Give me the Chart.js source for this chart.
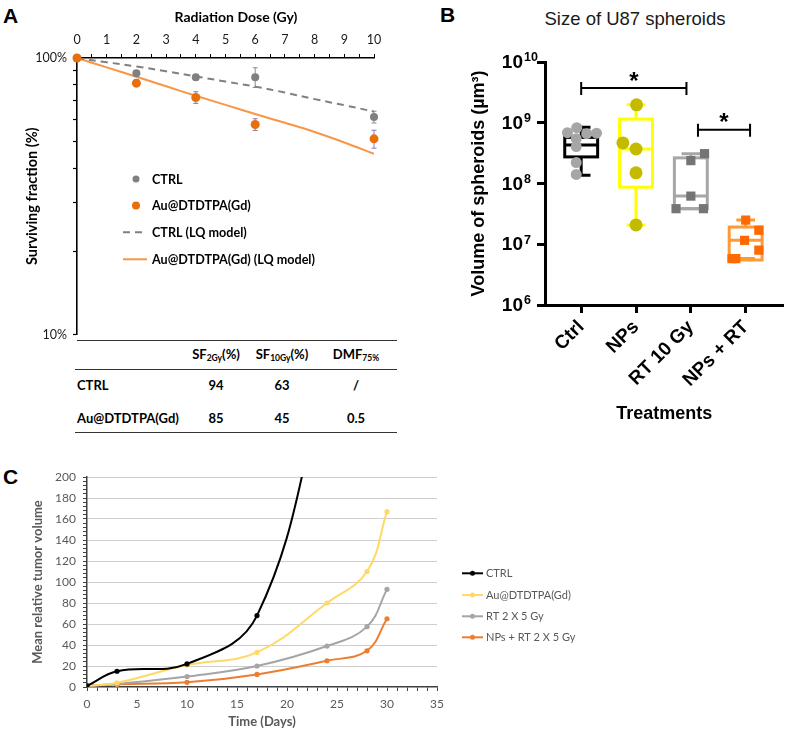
<!DOCTYPE html>
<html><head><meta charset="utf-8">
<script src="https://cdn.jsdelivr.net/npm/chart.js@4.4.1/dist/chart.umd.min.js"></script>
<style>
html,body{margin:0;padding:0;background:#fff;}
body{width:790px;height:734px;position:relative;overflow:hidden;}
canvas{position:absolute;}
.t{position:absolute;white-space:nowrap;font-family:Lato,"Liberation Sans",sans-serif;color:#000;line-height:1;}
.c{transform:translate(-50%,-50%);}
.l{transform:translate(0,-50%);}
.letter{position:absolute;font:bold 21px "Liberation Sans",Arial,sans-serif;line-height:1;color:#000;}
.hl{position:absolute;height:0;border-top:1.6px solid #333;}
sub{font-size:8.5px;vertical-align:-2px;}
</style></head><body>
<div class="letter" style="left:3px;top:5px">A</div>
<div class="letter" style="left:440px;top:4px">B</div>
<div class="letter" style="left:3px;top:466px">C</div>
<div class="t c" id="titleB" style="left:635px;top:19px;font-family:'Liberation Sans',Arial,sans-serif;font-size:18.5px;color:#1a1a1a">Size of U87 spheroids</div>
<div id="tableA"></div>
<canvas id="cA" width="400" height="348" style="left:0;top:0"></canvas>
<canvas id="cB" width="390" height="430" style="left:400px;top:0"></canvas>
<canvas id="cC" width="790" height="274" style="left:0;top:460px"></canvas>
<script>
// ================= Panel A data =================
const doses = [0, 2, 4, 6, 10];
const sfCtrl = [1.00, 0.88, 0.852, 0.852, 0.612];
const errCtrl = [0, 0.02, 0.02, 0.07, 0.03];
const sfNPs = [1.00, 0.811, 0.72, 0.575, 0.51];
const errNPs = [0, 0.023, 0.035, 0.028, 0.038];
const lqDose = [0, 1, 2, 3, 4, 5, 6, 7, 8, 9, 10];
const lqCtrl = [1.00, 0.965, 0.932, 0.895, 0.858, 0.822, 0.788, 0.75, 0.71, 0.675, 0.64];
const lqNPs = [1.00, 0.925, 0.855, 0.79, 0.73, 0.677, 0.627, 0.583, 0.54, 0.495, 0.45];
const sfTicks = [0.1, 0.2, 0.3, 0.4, 0.5, 0.6, 0.7, 0.8, 0.9, 1.0];
const tableHead = ['SF<sub>2Gy</sub>(%)', 'SF<sub>10Gy</sub>(%)', 'DMF<sub>75%</sub>'];
const tableRows = ['CTRL', 'Au@DTDTPA(Gd)'];
const sf2 = ['94', '85'];
const sf10 = ['63', '45'];
const dmf = ['/', '0.5'];

// ================= Panel B data =================
const groups = ['Ctrl', 'NPs', 'RT 10 Gy', 'NPs + RT'];
const volCtrl = [6.85e8, 8.28e8, 6.6e8, 6.73e8, 5.47e8, 4.05e8, 2.21e8, 1.41e8];
const jitCtrl = [-0.25, -0.08, 0.1, 0.28, -0.09, -0.09, -0.09, -0.09];
const volNPs = [1.97e9, 4.65e8, 3.7e8, 1.5e8, 2.08e7];
const jitNPs = [0.01, -0.24, 0, 0, 0];
const volRT = [3.1e8, 2.38e8, 6.2e7, 3.85e7, 3.85e7];
const jitRT = [0.25, 0, 0, -0.27, 0.23];
const volNPsRT = [2.5e7, 1.7e7, 1.16e7, 8.0e6, 5.8e6, 5.8e6];
const jitNPsRT = [0, 0.24, -0.02, 0.24, -0.25, -0.18];
const boxMin = [1.37e8, 2.08e7, 3.85e7, 5.8e6];
const boxQ1  = [2.74e8, 8.7e7, 3.85e7, 5.5e6];
const boxMed = [4.3e8, 3.7e8, 6.2e7, 1.16e7];
const boxQ3  = [5.74e8, 1.15e9, 2.64e8, 1.92e7];
const boxMax = [8.4e8, 1.97e9, 3.1e8, 2.5e7];
const volTicks = [1e6, 1e7, 1e8, 1e9, 1e10];
const sigFrom = [0, 2.13];
const sigTo = [1.92, 3.08];
const sigLevel = [3.75e9, 7.7e8];
const sigText = ['*', '*'];

// ================= Panel C data =================
const days = [0, 3, 10, 17, 24, 28, 30];
const tvCtrl = [1, 15, 22, 68, 300];
const tvNPs = [1, 4, 21, 33, 80, 110, 167];
const tvRT = [1, 3, 10, 20, 39, 57.5, 93];
const tvNPsRT = [1, 2.5, 4.5, 12, 25, 34.5, 65];
const seriesC = ['CTRL', 'Au@DTDTPA(Gd)', 'RT 2 X 5 Gy', 'NPs + RT 2 X 5 Gy'];
const dayTicks = [0,1,2,3,4,5,6,7,8,9,10,11,12,13,14,15,16,17,18,19,20,21,22,23,24,25,26,27,28,29,30,31,32,33,34,35];

// ================= Table (panel A) =================
(function(){
  const host = document.getElementById('tableA');
  const colX = [216, 282, 356];
  let h = '';
  h += '<div class="hl" style="left:77px;top:340px;width:320px"></div>';
  h += '<div class="hl" style="left:75px;top:369px;width:322px"></div>';
  h += '<div class="hl" style="left:75px;top:432px;width:322px"></div>';
  tableHead.forEach((t,i)=>{ h += `<div class="t c" style="left:${colX[i]}px;top:355px;font-weight:700;font-size:13px">${t}</div>`; });
  const rowY = [385, 418];
  tableRows.forEach((r,j)=>{
    h += `<div class="t l" style="left:77px;top:${rowY[j]}px;font-weight:700;font-size:13px">${r}</div>`;
    [sf2[j], sf10[j], dmf[j]].forEach((v,i)=>{ h += `<div class="t c" style="left:${colX[i]}px;top:${rowY[j]}px;font-weight:700;font-size:13px">${v}</div>`; });
  });
  host.innerHTML = h;
})();

Chart.defaults.animation = false;
Chart.defaults.plugins.legend.display = false;
Chart.defaults.plugins.tooltip.enabled = false;

// ================= Chart A =================
const errorBars = {
  id: 'errorBars',
  beforeDatasetsDraw(chart) {
    const {ctx, scales:{x, y}} = chart;
    ctx.save();
    chart.data.datasets.forEach(ds => {
      if (!ds.err) return;
      ctx.strokeStyle = ds.errColor; ctx.lineWidth = 1;
      ds.data.forEach((p, j) => {
        const e = ds.err[j]; if (!e) return;
        const px = x.getPixelForValue(p.x);
        const t = y.getPixelForValue(p.y + e), b = y.getPixelForValue(p.y - e);
        ctx.beginPath();
        ctx.moveTo(px, t); ctx.lineTo(px, b);
        ctx.moveTo(px - 2.5, t); ctx.lineTo(px + 2.5, t);
        ctx.moveTo(px - 2.5, b); ctx.lineTo(px + 2.5, b);
        ctx.stroke();
      });
    });
    ctx.restore();
  }
};
const legendA = {
  id: 'legendA',
  afterDraw(chart) {
    const ctx = chart.ctx;
    const order = [1, 0, 2, 3];
    const ys = [179, 205.5, 232.3, 259.3];
    ctx.save();
    ctx.font = 'bold 12.6px Lato';
    ctx.textBaseline = 'middle';
    ctx.fillStyle = '#000';
    order.forEach((di, k) => {
      const ds = chart.data.datasets[di];
      const yy = ys[k];
      if (ds.legendKind === 'dot') {
        ctx.beginPath(); ctx.fillStyle = ds.pointBackgroundColor;
        ctx.arc(136, yy, ds.pointRadius - 0.5, 0, Math.PI * 2); ctx.fill();
      } else {
        ctx.beginPath(); ctx.strokeStyle = ds.borderColor; ctx.lineWidth = ds.borderWidth;
        ctx.setLineDash(ds.borderDash || []);
        ctx.moveTo(123, yy); ctx.lineTo(147, yy); ctx.stroke(); ctx.setLineDash([]);
      }
      ctx.fillStyle = '#000';
      ctx.fillText(ds.label, 152, yy + 0.5);
    });
    // top axis title
    ctx.font = 'bold 14px Lato';
    ctx.textAlign = 'center';
    ctx.fillText(chart.options.plugins.axisTitleTop, 236, 17);
    ctx.restore();
  }
};
new Chart(document.getElementById('cA'), {
  type: 'scatter',
  data: { datasets: [
    { label: 'Au@DTDTPA(Gd)', data: doses.map((d,i)=>({x:d, y:sfNPs[i]})), err: errNPs, errColor: '#8a78c0',
      pointRadius: 4.5, pointBackgroundColor: '#e8700c', pointBorderColor: '#e8700c', pointBorderWidth: 0, clip: false, legendKind: 'dot' },
    { label: 'CTRL', data: doses.map((d,i)=>({x:d, y:sfCtrl[i]})), err: errCtrl, errColor: '#8c8c8c',
      pointRadius: 4, pointBackgroundColor: '#808080', pointBorderColor: '#808080', pointBorderWidth: 0, clip: false, legendKind: 'dot' },
    { label: 'CTRL (LQ model)', data: lqDose.map((d,i)=>({x:d, y:lqCtrl[i]})), showLine: true, borderColor: '#808080',
      borderWidth: 2, borderDash: [7, 5], pointRadius: 0, tension: 0.4, legendKind: 'line' },
    { label: 'Au@DTDTPA(Gd) (LQ model)', data: lqDose.map((d,i)=>({x:d, y:lqNPs[i]})), showLine: true, borderColor: '#f79646',
      borderWidth: 2, pointRadius: 0, tension: 0.4, legendKind: 'line' }
  ]},
  options: {
    responsive: false,
    layout: { padding: { left: 21, top: 4, right: 26, bottom: 0 } },
    plugins: { axisTitleTop: 'Radiation Dose (Gy)' },
    scales: {
      x: { type: 'linear', position: 'top', min: 0, max: 10,
        ticks: { stepSize: 0.5, autoSkip: false, maxRotation: 0, padding: 7, color: '#1a1a1a',
          font: { family: 'Lato', size: 12.5 }, callback: v => Number.isInteger(v) ? String(v) : '' },
        grid: { drawOnChartArea: false, tickLength: 4, tickColor: '#000', tickWidth: 1 },
        border: { color: '#000', width: 1.4 },
        title: { display: false },
        afterFit(s) { s.height = 54; } },
      y: { type: 'logarithmic', min: 0.1, max: 1,
        afterBuildTicks(s) { s.ticks = sfTicks.map(v => ({ value: v })); },
        ticks: { autoSkip: false, padding: 6, color: '#1a1a1a', font: { family: 'Lato', size: 12.5 },
          callback: v => Math.abs(v - 1) < 1e-9 ? '100%' : (Math.abs(v - 0.1) < 1e-9 ? '10%' : '') },
        grid: { drawOnChartArea: false, tickLength: 4, tickColor: '#000', tickWidth: 1.2 },
        border: { color: '#000', width: 1.6 },
        title: { display: true, text: 'Surviving fraction (%)', color: '#000', font: { family: 'Lato', size: 14.5, weight: 'bold' }, padding: { top: 3, bottom: 0 } },
        afterFit(s) { s.width = 56; } }
    }
  },
  plugins: [errorBars, legendA]
});

// ================= Chart B =================
const boxColors = ['#000000', '#ffff00', '#a6a6a6', '#ff9933'];
const boxHalf = 0.3;
const capHalf = 0.17;
const boxPlugin = {
  id: 'boxes',
  beforeDatasetsDraw(chart) {
    const {ctx, scales:{x, y}} = chart;
    ctx.save(); ctx.lineWidth = 3; ctx.lineJoin = 'miter';
    groups.forEach((g, i) => {
      const cx = x.getPixelForValue(i);
      const hw = x.getPixelForValue(i + boxHalf) - cx;
      const cw = x.getPixelForValue(i + capHalf) - cx;
      const yMin = y.getPixelForValue(boxMin[i]), yQ1 = y.getPixelForValue(boxQ1[i]);
      const yMed = y.getPixelForValue(boxMed[i]), yQ3 = y.getPixelForValue(boxQ3[i]);
      const yMax = y.getPixelForValue(boxMax[i]);
      ctx.strokeStyle = boxColors[i];
      ctx.beginPath();
      ctx.moveTo(cx, yQ3); ctx.lineTo(cx, yMax);
      ctx.moveTo(cx - cw, yMax); ctx.lineTo(cx + cw, yMax);
      ctx.moveTo(cx, yQ1); ctx.lineTo(cx, yMin);
      ctx.moveTo(cx - cw, yMin); ctx.lineTo(cx + cw, yMin);
      ctx.moveTo(cx - hw, yMed); ctx.lineTo(cx + hw, yMed);
      ctx.stroke();
      ctx.strokeRect(cx - hw, yQ3, 2 * hw, yQ1 - yQ3);
    });
    ctx.restore();
  },
  afterDraw(chart) {
    const {ctx, scales:{x, y}, chartArea} = chart;
    ctx.save();
    ctx.strokeStyle = '#000'; ctx.lineWidth = 2; ctx.fillStyle = '#000';
    sigFrom.forEach((f, k) => {
      const x1 = x.getPixelForValue(f), x2 = x.getPixelForValue(sigTo[k]);
      const yy = y.getPixelForValue(sigLevel[k]);
      ctx.beginPath();
      ctx.moveTo(x1, yy + 7); ctx.lineTo(x1, yy - 6);
      ctx.moveTo(x1, yy); ctx.lineTo(x2, yy);
      ctx.moveTo(x2, yy + 7); ctx.lineTo(x2, yy - 6);
      ctx.stroke();
      ctx.font = 'bold 24px "Liberation Sans"'; ctx.textAlign = 'center'; ctx.textBaseline = 'middle';
      ctx.fillText(sigText[k], (x1 + x2) / 2, yy - 6);
    });
    volTicks.forEach(v => {
      const yy = y.getPixelForValue(v);
      const ex = Math.round(Math.log10(v));
      const xr = chartArea.left - 22;
      ctx.textBaseline = 'middle';
      ctx.font = 'bold 19px "Liberation Sans"'; ctx.textAlign = 'right';
      ctx.fillText('10', xr, yy + 1);
      ctx.font = 'bold 12.5px "Liberation Sans"'; ctx.textAlign = 'left';
      ctx.fillText(String(ex), xr + 1, yy - 4);
    });
    ctx.restore();
  }
};
const mk = (vals, jit, gi) => vals.map((v, i) => ({ x: gi + jit[i], y: v }));
new Chart(document.getElementById('cB'), {
  type: 'scatter',
  data: { datasets: [
    { label: groups[0], data: mk(volCtrl, jitCtrl, 0), pointStyle: 'circle', pointRadius: 5.5, backgroundColor: '#a6a6a6', borderWidth: 0, clip: false },
    { label: groups[1], data: mk(volNPs, jitNPs, 1), pointStyle: 'circle', pointRadius: 6.5, backgroundColor: '#c4bb00', borderWidth: 0, clip: false },
    { label: groups[2], data: mk(volRT, jitRT, 2), pointStyle: 'rect', pointRadius: 6.5, backgroundColor: '#757575', borderWidth: 0, clip: false },
    { label: groups[3], data: mk(volNPsRT, jitNPsRT, 3), pointStyle: 'rect', pointRadius: 6.5, backgroundColor: '#ff6a00', borderWidth: 0, clip: false }
  ]},
  options: {
    responsive: false,
    layout: { padding: { left: 64, top: 62, right: 0, bottom: 1 } },
    scales: {
      x: { type: 'linear', min: -0.66, max: 3.69,
        afterBuildTicks(s) { s.ticks = groups.map((g, i) => ({ value: i })); },
        ticks: { autoSkip: false, minRotation: 45, maxRotation: 45, padding: 3, color: '#000',
          font: { family: 'Liberation Sans', size: 19, weight: 'bold' }, callback: v => groups[v] },
        grid: { drawOnChartArea: false, tickLength: 8, tickWidth: 3, tickColor: '#000' },
        border: { color: '#000', width: 3 },
        title: { display: true, text: 'Treatments', color: '#000', font: { family: 'Liberation Sans', size: 18, weight: 'bold' }, padding: { top: 4, bottom: 4 } },
        afterFit(s) { s.height = 124; } },
      y: { type: 'logarithmic', min: 1e6, max: 1e10,
        afterBuildTicks(s) { s.ticks = volTicks.map(v => ({ value: v })); },
        ticks: { autoSkip: false, callback: () => '' },
        grid: { drawOnChartArea: false, tickLength: 8, tickWidth: 3, tickColor: '#000' },
        border: { color: '#000', width: 3 },
        title: { display: true, text: 'Volume of spheroids (µm³)', color: '#000', font: { family: 'Liberation Sans', size: 18, weight: 'bold' }, padding: { top: 4, bottom: 0 } },
        afterFit(s) { s.width = 81; } }
    }
  },
  plugins: [boxPlugin]
});

// ================= Chart C =================
const colorsC = ['#000000', '#ffd966', '#a5a5a5', '#ed7d31'];
const valsC = [tvCtrl, tvNPs, tvRT, tvNPsRT];
const legendC = {
  id: 'legendC',
  afterDraw(chart) {
    const ctx = chart.ctx;
    const ys = [113.3, 135, 156.3, 177.3];
    ctx.save();
    ctx.font = '11px Lato'; ctx.textBaseline = 'middle';
    chart.data.datasets.forEach((ds, k) => {
      const yy = ys[k];
      ctx.strokeStyle = ds.borderColor; ctx.lineWidth = 2;
      ctx.beginPath(); ctx.moveTo(462, yy); ctx.lineTo(483, yy); ctx.stroke();
      ctx.fillStyle = ds.borderColor; ctx.beginPath(); ctx.arc(472.5, yy, 2.5, 0, Math.PI * 2); ctx.fill();
      ctx.fillStyle = '#595959'; ctx.fillText(ds.label, 486, yy + 0.5);
    });
    ctx.restore();
  }
};
new Chart(document.getElementById('cC'), {
  type: 'line',
  data: { datasets: seriesC.map((s, k) => ({
    label: s, data: valsC[k].map((v, i) => ({ x: days[i], y: v })),
    borderColor: colorsC[k], backgroundColor: colorsC[k], borderWidth: 2,
    pointRadius: 2.6, pointBorderWidth: 0, tension: 0.4, capBezierPoints: false
  })) },
  options: {
    responsive: false,
    layout: { padding: { left: 26, top: 17, right: 353, bottom: 0 } },
    scales: {
      x: { type: 'linear', min: 0, max: 35,
        afterBuildTicks(s) { s.ticks = dayTicks.map(v => ({ value: v })); },
        ticks: { autoSkip: false, maxRotation: 0, padding: 6, color: '#595959', font: { family: 'Lato', size: 12 },
          callback: v => v % 5 === 0 ? String(v) : '' },
        grid: { drawOnChartArea: false, tickLength: 4, tickColor: '#404040' },
        border: { color: '#404040', width: 1.5 },
        title: { display: true, text: 'Time (Days)', color: '#595959', font: { family: 'Lato', size: 13, weight: 'bold' }, padding: { top: 2, bottom: 4 } },
        afterFit(s) { s.height = 47; } },
      y: { type: 'linear', min: 0, max: 200,
        afterBuildTicks(s) { const t = []; for (let v = 0; v <= 200; v += 4) t.push({ value: v }); s.ticks = t; },
        ticks: { autoSkip: false, padding: 7, color: '#595959', font: { family: 'Lato', size: 12 },
          callback: v => v % 20 === 0 ? String(v) : '' },
        grid: { tickLength: 4, tickColor: '#404040',
          color: c => (c.tick && c.tick.value % 20 === 0 && c.tick.value > 0) ? '#cfcfcf' : 'rgba(0,0,0,0)' },
        border: { color: '#404040', width: 1.5 },
        title: { display: true, text: 'Mean relative tumor volume', color: '#595959', font: { family: 'Lato', size: 13, weight: 'bold' }, padding: { top: 4, bottom: 0 } },
        afterFit(s) { s.width = 61; } }
    }
  },
  plugins: [legendC]
});
</script>
</body></html>
